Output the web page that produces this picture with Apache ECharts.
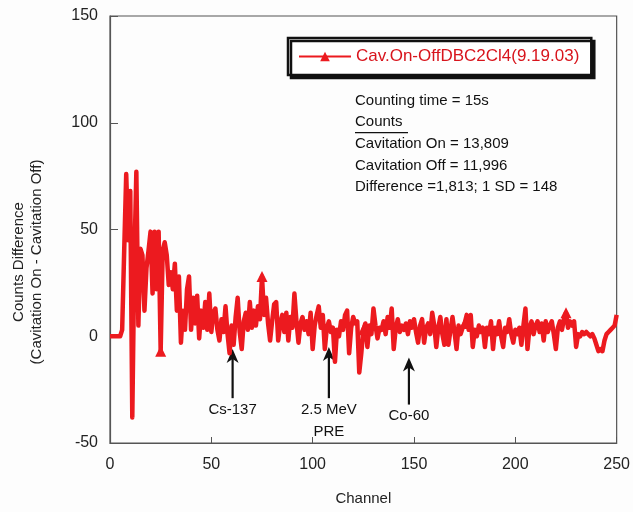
<!DOCTYPE html>
<html>
<head>
<meta charset="utf-8">
<script src="https://cdn.jsdelivr.net/npm/echarts@6/dist/echarts.min.js"></script>
<style>
  html, body { margin: 0; padding: 0; background: #fdfdfd; }
  #chart { width: 633px; height: 512px; }
</style>
</head>
<body>
<div id="chart"></div>
<script>
// Channel-by-channel count difference (cavitation on minus off), channels 0..250
const diffCounts = [
  0, 0, 0, 0, 0, 0, 3, 40, 76, 45,
  68, -38, 35, 77, 5, 41, 38, 12, 32, 40,
  49, 20, 49, 22, 49, -7, 40, 44, 38, 24,
  30, 22, 34, 12, 28, -3, 12, 3, 22, 28,
  3, 18, 6, 19, -1, 12, 4, 16, 3, 20,
  2, 11, 13, 3, -2, 8, 2, 14, 1, -8,
  5, -4, 9, 18, 2, -6, 7, 11, 3, 16,
  4, 12, 5, 14, 8, 28, 10, 18, 6, -2,
  7, 15, 16, -2, 6, 10, 2, 11, -2, 9,
  4, 20, 7, -3, 6, 9, 3, 7, 1, 11,
  -6, 5, 10, 14, 4, 10, -6, 4, 7, 2,
  4, -12, 3, 0, 7, 3, 10, 12, -8, 4,
  9, 6, 7, -17, -8, 3, 6, -5, 5, 1,
  13, 5, -1, 4, 3, 7, 1, 9, 4, 13,
  -6, 4, 8, 2, 5, 3, 6, 1, 7, 4,
  8, 2, -3, 5, 8, -3, 4, 6, 1, 11,
  5, -5, 4, 9, 1, -4, 8, -4, 3, 9,
  2, -6, 5, 1, 4, 6, 10, 3, 10, -5,
  3, 0, 5, 2, 4, -5, 4, 1, 7, -6,
  4, 1, 7, 0, -5, 4, 2, 8, 1, -3,
  3, 1, 4, -4, 5, 13, -6, 4, 7, 1,
  5, 7, 2, 6, -2, 7, 2, 5, 7, 1,
  -6, 4, 7, 3, 8, 11, 4, 7, 5, 7,
  -5, 1, 0, 2, 1, 2, 1, 0, 1, -1,
  -4, -7, -6, -7, -2, 1, 2, 3, 4, 5,
  10
];
const channels = diffCounts.map((_, i) => i);
const seriesName = 'Cav.On-OffDBC2Cl4(9.19.03)';

// Axis ranges and tick steps
const xTicks = [0, 50, 100, 150, 200, 250];
const yTicks = [-50, 0, 50, 100, 150];

// Channels that carry a triangle marker
const markerEvery = 50;
const markerStart = 25;

// Axis titles
const xTitle = 'Channel';
const yTitleLines = ['Counts Difference', '(Cavitation On - Cavitation Off)'];

// Summary text block
const infoLines = [
  'Counting time = 15s',
  'Counts',
  'Cavitation On = 13,809',
  'Cavitation Off = 11,996',
  'Difference =1,813; 1 SD = 148'
];

// Peak annotations: label lines, channel, arrow tip and tail values
const peakNotes = [
  { lines: ['Cs-137'], ch: 60.5, tip: -6, tail: -29 },
  { lines: ['2.5 MeV', 'PRE'], ch: 108, tip: -5, tail: -29 },
  { lines: ['Co-60'], ch: 147.5, tip: -10, tail: -32 }
];

const RED = '#ec1a1f';
const FONT = 'Liberation Sans, Arial, sans-serif';

const chart = echarts.init(document.getElementById('chart'), null, { renderer: 'canvas' });

const option = {
  backgroundColor: '#fdfdfd',
  animation: false,
  grid: { left: 110, right: 11, top: 16, bottom: 69, show: true, borderColor: '#555', borderWidth: 1.2, backgroundColor: 'transparent' },
  legend: {
    data: [seriesName],
    left: 288, top: 38,
    padding: [10, 12, 10, 10],
    itemWidth: 52, itemHeight: 12, itemGap: 4,
    backgroundColor: '#fff',
    borderColor: '#111', borderWidth: 2.5,
    shadowColor: '#111', shadowBlur: 0, shadowOffsetX: 3, shadowOffsetY: 3,
    textStyle: { color: '#d8141c', fontSize: 17, fontFamily: FONT }
  },
  xAxis: {
    type: 'value', min: xTicks[0], max: xTicks[xTicks.length - 1], interval: 50,
    name: xTitle, nameLocation: 'middle', nameGap: 48,
    nameTextStyle: { color: '#222', fontSize: 15, fontFamily: FONT },
    axisLine: { show: true, onZero: false, lineStyle: { color: '#555', width: 1.2 } },
    axisTick: { show: true, inside: true, length: 6, lineStyle: { color: '#555' } },
    axisLabel: { color: '#222', fontSize: 16, fontFamily: FONT, margin: 14 },
    splitLine: { show: false }
  },
  yAxis: {
    type: 'value', min: yTicks[0], max: yTicks[yTicks.length - 1], interval: 50,
    axisLine: { show: true, lineStyle: { color: '#555', width: 1.2 } },
    axisTick: { show: true, inside: true, length: 8, lineStyle: { color: '#555' } },
    axisLabel: { color: '#222', fontSize: 16, fontFamily: FONT, margin: 12 },
    splitLine: { show: false }
  },
  series: [{
    name: seriesName,
    type: 'line',
    data: channels.map((c, i) => [c, diffCounts[i]]),
    showSymbol: true,
    showAllSymbol: true,
    symbol: 'triangle',
    symbolSize: (val, p) => (p.dataIndex >= markerStart && (p.dataIndex - markerStart) % markerEvery === 0) ? 11 : 0,
    itemStyle: { color: RED },
    lineStyle: { color: RED, width: 4.5, join: 'round' },
    emphasis: { disabled: true }
  }]
};

chart.setOption(option);

// Text block, y title and arrows are placed once the axes exist
function buildGraphics() {
  const els = [];
  const textX = 355;
  const textTop = 93;
  const lineStep = 21.7;
  infoLines.forEach((t, i) => {
    els.push({
      type: 'text', left: textX, top: textTop + i * lineStep,
      style: { text: t, fill: '#111', font: '15px ' + FONT }
    });
  });
  // underline under the "Counts" heading
  const uy = textTop + lineStep + 18;
  els.push({
    type: 'line',
    shape: { x1: textX, y1: uy, x2: textX + 53, y2: uy },
    style: { stroke: '#111', lineWidth: 1.2 }
  });

  // rotated two-line y title
  const yTitleX = [19, 37];
  yTitleLines.forEach((t, i) => {
    els.push({
      type: 'text', x: yTitleX[i], y: 262, rotation: Math.PI / 2,
      style: { text: t, fill: '#222', font: '15px ' + FONT, textAlign: 'center', textVerticalAlign: 'middle' }
    });
  });

  peakNotes.forEach(n => {
    const tip = chart.convertToPixel({ gridIndex: 0 }, [n.ch, n.tip]);
    const tail = chart.convertToPixel({ gridIndex: 0 }, [n.ch, n.tail]);
    els.push({
      type: 'line',
      shape: { x1: tail[0], y1: tail[1], x2: tip[0], y2: tip[1] + 6 },
      style: { stroke: '#111', lineWidth: 2.2 }
    });
    els.push({
      type: 'polygon',
      shape: { points: [[tip[0], tip[1]], [tip[0] - 6, tip[1] + 14], [tip[0], tip[1] + 10], [tip[0] + 6, tip[1] + 14]] },
      style: { fill: '#111' }
    });
    n.lines.forEach((ln, k) => {
      els.push({
        type: 'text', x: tail[0], y: tail[1] + 4 + k * 22,
        style: { text: ln, fill: '#111', font: '15px ' + FONT, textAlign: 'center', textVerticalAlign: 'top' }
      });
    });
  });
  chart.setOption({ graphic: els });
}
buildGraphics();
</script>
</body>
</html>
